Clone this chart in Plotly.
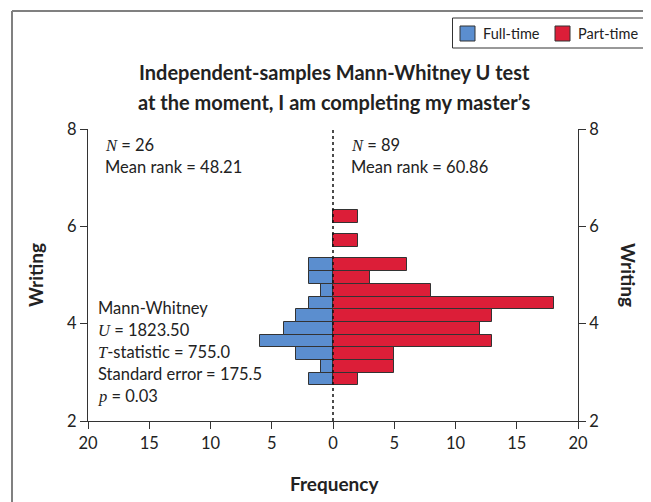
import plotly.graph_objects as go

# ---- data ----
writing_bins = [2.862, 3.122, 3.384, 3.644, 3.904, 4.166, 4.426, 4.686, 4.951, 5.215, 5.705, 6.202]
full_time = [2, 1, 3, 6, 4, 3, 2, 1, 2, 2, 0, 0]
part_time = [2, 5, 5, 13, 12, 13, 18, 8, 3, 6, 2, 2]
series_names = ["Full-time", "Part-time"]
bin_width = 0.26
x_ticks = [-20, -15, -10, -5, 0, 5, 10, 15, 20]
x_ticktext = [str(abs(v)) for v in x_ticks]
y_ticks = [2, 4, 6, 8]

BLUE = "#5B8ECF"
RED = "#DC1E38"
AX = "#333333"
FONT = "Lato"

# page body has an 8px margin; work in page pixels and convert
OFF = 8
W, H = 651 - OFF, 502 - OFF
L, R, T, B = 88, 578, 129, 421  # plot area in page pixels


def px(xp):
    return (xp - L) / (R - L)


def py(yp):
    return (B - yp) / (B - T)


fig = go.Figure()
fig.add_trace(go.Bar(
    y=writing_bins, x=[-v for v in full_time], orientation="h", width=bin_width,
    name=series_names[0], marker=dict(color=BLUE, line=dict(color=AX, width=1)),
    hoverinfo="skip", showlegend=False))
fig.add_trace(go.Bar(
    y=writing_bins, x=part_time, orientation="h", width=bin_width,
    name=series_names[1], marker=dict(color=RED, line=dict(color=AX, width=1)),
    hoverinfo="skip", showlegend=False))
fig.add_trace(go.Scatter(x=[None], y=[None], yaxis="y2", showlegend=False,
                         hoverinfo="skip"))

axis_common = dict(showline=True, linecolor=AX, linewidth=1, ticks="outside",
                   ticklen=7, tickcolor=AX, showgrid=False, zeroline=False,
                   automargin=False,
                   tickfont=dict(family=FONT, size=16.5, color="#222"))

fig.update_layout(
    width=W, height=H, autosize=False,
    margin=dict(l=L - OFF, r=651 - R, t=T - OFF, b=502 - B, autoexpand=False),
    paper_bgcolor="white", plot_bgcolor="white",
    barmode="overlay", bargap=0,
    font=dict(family=FONT, size=16, color="#222"),
    xaxis=dict(range=[-20, 20], tickvals=x_ticks, ticktext=x_ticktext,
               **axis_common),
    yaxis=dict(range=[2, 8], tickvals=y_ticks, **axis_common),
    yaxis2=dict(range=[2, 8], tickvals=y_ticks, overlaying="y", side="right",
                **axis_common),
    showlegend=False,
)

# zero reference line
fig.add_shape(type="line", x0=0, x1=0, y0=2, y1=8, xref="x", yref="y",
              line=dict(color="#111", width=1.5, dash="dot"), layer="above")

# outer frame (top and left)
fig.add_shape(type="line", xref="paper", yref="paper", x0=px(12), x1=px(660),
              y0=py(11), y1=py(11), line=dict(color="#808080", width=2))
fig.add_shape(type="line", xref="paper", yref="paper", x0=px(12), x1=px(12),
              y0=py(11), y1=py(510), line=dict(color="#808080", width=2))

# legend box drawn in page pixels
fig.add_shape(type="rect", xref="paper", yref="paper", x0=px(452.5), x1=px(647.5),
              y0=py(48), y1=py(18), line=dict(color=AX, width=1),
              fillcolor="white")
for (x0, col) in [(460, BLUE), (555, RED)]:
    fig.add_shape(type="rect", xref="paper", yref="paper", x0=px(x0), x1=px(x0 + 15),
                  y0=py(41), y1=py(26), line=dict(color=AX, width=1),
                  fillcolor=col)

ann = []


def text(x, y, s, size=16.5, bold=False, xanchor="left", angle=0):
    if bold:
        s = "<b>" + s + "</b>"
    ann.append(dict(x=px(x), y=py(y), xref="paper", yref="paper", text=s,
                    showarrow=False, xanchor=xanchor, yanchor="middle",
                    textangle=angle,
                    font=dict(family=FONT, size=size, color="#222")))


def it(s):
    return '<i><span style="font-family:Liberation Serif">' + s + '</span></i>'


text(481, 34, series_names[0], size=14.5)
text(576, 34, series_names[1], size=14.5)

text(334, 72, "Independent-samples Mann-Whitney U test", size=20, bold=True, xanchor="center")
text(334, 102, "at the moment, I am completing my master\u2019s", size=20, bold=True, xanchor="center")

text(103, 145, it("N") + " = 26")
text(103, 167, "Mean rank = 48.21")
text(349, 145, it("N") + " = 89")
text(349, 167, "Mean rank = 60.86")

text(96, 308, "Mann-Whitney")
text(96, 330, it("U") + " = 1823.50")
text(96, 352, it("T") + "-statistic = 755.0")
text(96, 374, "Standard error = 175.5")
text(96, 396, it("p") + " = 0.03")

text(334, 483, "Frequency", size=19, bold=True, xanchor="center")
text(35, 275, "Writing", size=19, bold=True, xanchor="center", angle=-90)
text(629, 275, "Writing", size=19, bold=True, xanchor="center", angle=90)

fig.update_layout(annotations=ann)

fig.write_html("out.html", config={"displayModeBar": False})
